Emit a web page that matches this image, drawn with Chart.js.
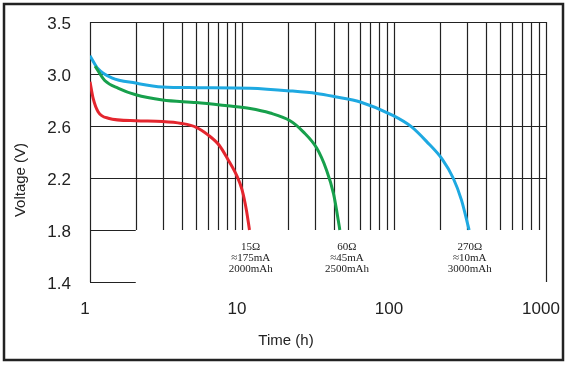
<!DOCTYPE html>
<html>
<head>
<meta charset="utf-8">
<script src="https://cdn.jsdelivr.net/npm/chart.js@4/dist/chart.umd.min.js"></script>
<style>
  body { margin: 0; background: #fff; }
</style>
</head>
<body>
<canvas id="grafica" width="569" height="365"></canvas>
<script>
// datos (tiempo en horas, voltaje en V)
var tiempoRojo = [1, 1.05, 1.13, 1.32, 2, 3, 4, 5, 6, 7.1, 8.1, 9.3, 10, 10.7, 11.2];
var voltRojo   = [2.94, 2.81, 2.71, 2.66, 2.64, 2.635, 2.62, 2.59, 2.53, 2.45, 2.34, 2.21, 2.11, 1.95, 1.8];

var tiempoVerde = [1.08, 1.25, 1.54, 2, 3, 5, 8, 11.3, 15.3, 20.7, 25.3, 31, 36, 40, 43.6, 44];
var voltVerde   = [3.06, 2.95, 2.89, 2.84, 2.80, 2.78, 2.755, 2.735, 2.70, 2.64, 2.555, 2.43, 2.26, 2.08, 1.83, 1.8];

var tiempoAzul = [1, 1.13, 1.39, 2, 3, 5, 11.3, 20.7, 31, 41, 60, 99, 130, 164, 209, 245, 278, 312];
var voltAzul   = [3.14, 3.04, 2.97, 2.93, 2.90, 2.895, 2.89, 2.87, 2.85, 2.825, 2.785, 2.68, 2.595, 2.48, 2.34, 2.20, 2.03, 1.8];

var etiquetasX = [1, 10, 100, 1000];
var valoresY = [1.4, 1.8, 2.2, 2.6, 3.0, 3.4];
var etiquetasY = ['1.4', '1.8', '2.2', '2.6', '3.0', '3.5'];

var rejillaX = [1, 2, 3, 4, 5, 6, 7, 8, 9, 10, 20, 30, 40, 50, 60, 70, 80, 90,
                100, 200, 300, 400, 500, 600, 700, 800, 900, 1000];

var notasX = [11.4, 49, 315];
var notasTexto = [
    ['15Ω', '≈175mA', '2000mAh'],
    ['60Ω', '≈45mA', '2500mAh'],
    ['270Ω', '≈10mA', '3000mAh']
];

function puntos(ts, vs) {
    return ts.map((t, i) => ({ x: t, y: vs[i] }));
}

var colorTinta = '#222';

// rejilla, notas, títulos y marco
var dibujoExtra = {
    id: 'dibujoExtra',
    beforeDatasetsDraw: function(chart) {
        var ctx = chart.ctx;
        var x = chart.scales.x, y = chart.scales.y;
        ctx.save();
        ctx.strokeStyle = colorTinta;
        ctx.lineWidth = 1.2;
        ctx.beginPath();
        rejillaX.forEach(function(t) {
            var px = Math.round(x.getPixelForValue(t)) + 0.5;
            var fondo = (t === 1 || t === 1000) ? 1.4 : 1.8;
            ctx.moveTo(px, y.getPixelForValue(3.4));
            ctx.lineTo(px, y.getPixelForValue(fondo));
        });
        [3.4, 3.0, 2.6, 2.2].forEach(function(v) {
            var py = Math.round(y.getPixelForValue(v)) + 0.5;
            ctx.moveTo(x.getPixelForValue(1), py);
            ctx.lineTo(x.getPixelForValue(1000), py);
        });
        [1.8, 1.4].forEach(function(v) {
            var py = Math.round(y.getPixelForValue(v)) + 0.5;
            ctx.moveTo(x.getPixelForValue(1), py);
            ctx.lineTo(x.getPixelForValue(2), py);
        });
        ctx.stroke();
        ctx.restore();
    },
    afterDraw: function(chart) {
        var ctx = chart.ctx;
        var x = chart.scales.x, y = chart.scales.y;
        ctx.save();
        ctx.fillStyle = colorTinta;
        ctx.textAlign = 'center';
        ctx.textBaseline = 'middle';

        // notas de cada curva
        ctx.font = '11px "Liberation Serif", "DejaVu Serif", serif';
        notasX.forEach(function(t, i) {
            var px = x.getPixelForValue(t);
            var py0 = y.getPixelForValue(1.8) + 17;
            notasTexto[i].forEach(function(linea, j) {
                ctx.fillText(linea, px, py0 + j * 11);
            });
        });

        // títulos de los ejes
        ctx.font = '15px "Liberation Sans", Arial, sans-serif';
        ctx.fillText('Time (h)', 286, 341);
        ctx.translate(21, 180);
        ctx.rotate(-Math.PI / 2);
        ctx.fillText('Voltage (V)', 0, 0);
        ctx.restore();

        // marco exterior
        ctx.save();
        ctx.strokeStyle = colorTinta;
        ctx.lineWidth = 2.5;
        ctx.strokeRect(4, 4, 559, 356);
        ctx.restore();
    }
};

var ctx = document.getElementById('grafica').getContext('2d');

var grafica = new Chart(ctx, {
    type: 'line',
    data: {
        datasets: [{
            label: '15Ω',
            data: puntos(tiempoRojo, voltRojo),
            borderColor: '#e4262e',
            borderWidth: 3,
            pointRadius: 0,
            cubicInterpolationMode: 'monotone'
        }, {
            label: '60Ω',
            data: puntos(tiempoVerde, voltVerde),
            borderColor: '#17a04c',
            borderWidth: 3,
            pointRadius: 0,
            cubicInterpolationMode: 'monotone'
        }, {
            label: '270Ω',
            data: puntos(tiempoAzul, voltAzul),
            borderColor: '#1ea9e1',
            borderWidth: 3,
            pointRadius: 0,
            cubicInterpolationMode: 'monotone'
        }]
    },
    options: {
        responsive: false,
        animation: false,
        devicePixelRatio: 1,
        layout: {
            padding: { top: 22, right: 23, left: 0, bottom: 0 }
        },
        plugins: {
            legend: { display: false },
            tooltip: { enabled: false }
        },
        scales: {
            x: {
                type: 'logarithmic',
                min: 1,
                max: 1000,
                grid: { display: false, drawTicks: false },
                border: { display: false },
                afterBuildTicks: function(scale) {
                    scale.ticks = etiquetasX.map(v => ({ value: v }));
                },
                afterFit: function(scale) {
                    scale.height = 83;
                    scale.paddingLeft = 0;
                    scale.paddingRight = 0;
                },
                ticks: {
                    padding: 17,
                    labelOffset: -5,
                    maxRotation: 0,
                    autoSkip: false,
                    color: colorTinta,
                    font: { family: '"Liberation Sans", Arial, sans-serif', size: 17 },
                    callback: function(value) {
                        return String(value);
                    }
                }
            },
            y: {
                type: 'linear',
                min: 1.4,
                max: 3.4,
                grid: { display: false, drawTicks: false },
                border: { display: false },
                afterBuildTicks: function(scale) {
                    scale.ticks = valoresY.map(v => ({ value: v }));
                },
                afterFit: function(scale) {
                    scale.width = 90;
                    scale.paddingTop = 0;
                    scale.paddingBottom = 0;
                },
                ticks: {
                    padding: 19,
                    labelOffset: 2,
                    color: colorTinta,
                    font: { family: '"Liberation Sans", Arial, sans-serif', size: 17 },
                    callback: function(value, index) {
                        return etiquetasY[index];
                    }
                }
            }
        }
    },
    plugins: [dibujoExtra]
});
</script>
</body>
</html>
